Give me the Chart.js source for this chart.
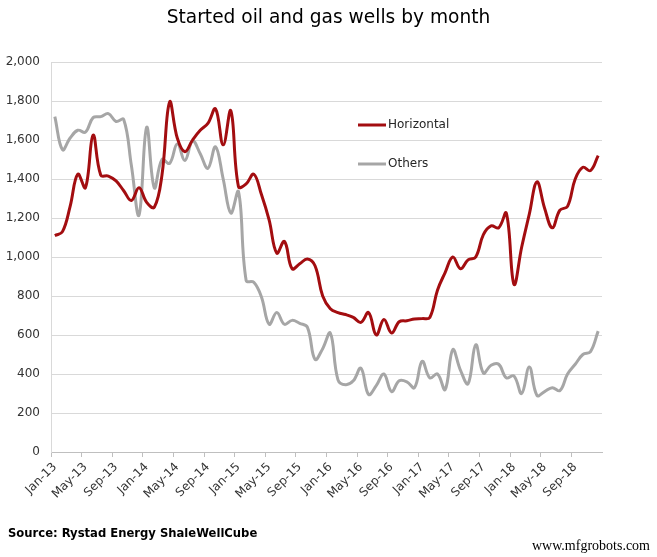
<!DOCTYPE html>
<html><head><meta charset="utf-8">
<script src="https://cdn.jsdelivr.net/npm/chart.js@4"></script>
<style>
html,body{margin:0;padding:0;background:#fff;}
#wrap{position:relative;width:657px;height:557px;overflow:hidden;}
#c{position:absolute;left:0;top:0;width:657px;height:557px;}
#title{position:absolute;left:0;top:6px;width:657px;text-align:center;font:18.6px "DejaVu Sans";color:#000;}
#src{position:absolute;left:8px;top:526px;font:bold 11.6px "DejaVu Sans";color:#000;}
#wm{position:absolute;right:7px;top:538px;font:14px "Liberation Serif";color:#000;}
</style></head><body>
<div id="wrap">
<canvas id="c" width="657" height="557"></canvas>
<div id="title">Started oil and gas wells by month</div>
<div id="src">Source: Rystad Energy ShaleWellCube</div>
<div id="wm">www.mfgrobots.com</div>
</div>
<script>
const months = ["Jan","Feb","Mar","Apr","May","Jun","Jul","Aug","Sep","Oct","Nov","Dec"];
const years = ["13","14","15","16","17","18"];
const categories = [];
years.forEach(y => months.forEach(m => categories.push(m + "-" + y)));

const horizontal = [
 1110,1130,1260,1425,1355,1625,1420,1415,1390,1340,1290,1355,
 1280,1255,1420,1795,1610,1540,1600,1650,1685,1760,1575,1750,
 1360,1375,1425,1320,1190,1020,1080,940,965,990,955,800,
 735,715,705,690,665,715,600,680,610,668,673,682,
 684,690,830,920,1000,940,985,1000,1115,1160,1150,1225,
 860,1050,1220,1385,1250,1150,1240,1260,1400,1460,1443,1520
];
const others = [
 1720,1550,1610,1650,1640,1715,1720,1735,1695,1705,1470,1215,
 1665,1355,1500,1480,1580,1495,1595,1530,1455,1565,1400,1225,
 1335,880,870,795,655,715,655,675,660,640,475,530,
 610,370,345,365,430,295,340,400,310,365,360,330,
 465,380,400,320,525,420,350,550,405,445,450,380,
 390,300,436,290,310,330,315,400,450,500,515,620
];
const yTicks = [0,200,400,600,800,1000,1200,1400,1600,1800,2000];
const labelEvery = 4;

const inlineLegend = {
  id: 'inlineLegend',
  afterDatasetsDraw(chart) {
    const ctx = chart.ctx;
    const pos = [125, 164];
    chart.data.datasets.forEach((ds, i) => {
      const y = pos[i];
      ctx.save();
      ctx.strokeStyle = ds.borderColor;
      ctx.lineWidth = 3;
      ctx.beginPath();
      ctx.moveTo(358, y);
      ctx.lineTo(386, y);
      ctx.stroke();
      ctx.fillStyle = '#262626';
      ctx.font = '12px "DejaVu Sans"';
      ctx.textBaseline = 'middle';
      ctx.textAlign = 'left';
      ctx.fillText(ds.label, 388, y);
      ctx.restore();
    });
  }
};

new Chart(document.getElementById('c'), {
  type: 'line',
  data: {
    labels: categories,
    datasets: [
      {label: 'Horizontal', data: horizontal, borderColor: '#a30d10', borderWidth: 3, pointRadius: 0, tension: 0.4, fill: false},
      {label: 'Others', data: others, borderColor: '#a6a6a6', borderWidth: 3, pointRadius: 0, tension: 0.4, fill: false}
    ]
  },
  options: {
    responsive: false,
    animation: false,
    devicePixelRatio: 1,
    layout: {padding: {top: 62, right: 55, left: 0, bottom: 0}},
    plugins: {legend: {display: false}, title: {display: false}, tooltip: {enabled: false}},
    scales: {
      x: {
        offset: true,
        afterFit: s => { s.height = 105; },
        grid: {
          offset: true,
          drawOnChartArea: false,
          drawTicks: true,
          tickLength: 5,
          tickColor: c => (c.index % labelEvery === 0 ? '#bfbfbf' : 'rgba(0,0,0,0)'),
          color: 'rgba(0,0,0,0)'
        },
        border: {display: true, color: '#bfbfbf', width: 1},
        ticks: {
          autoSkip: false,
          maxRotation: 45,
          minRotation: 45,
          padding: 3,
          color: '#333333',
          font: {family: '"DejaVu Sans"', size: 12},
          callback: (v, i) => (i % labelEvery === 0 ? categories[i] : '')
        }
      },
      y: {
        min: 0,
        max: 2000,
        afterFit: s => { s.width = 51; },
        afterBuildTicks: s => { s.ticks = yTicks.map(v => ({value: v})); },
        grid: {color: '#d9d9d9', drawTicks: false, lineWidth: 1},
        border: {display: true, color: '#d9d9d9'},
        ticks: {
          padding: 11,
          color: '#333333',
          font: {family: '"DejaVu Sans"', size: 12},
          callback: v => v.toLocaleString('en-US')
        }
      }
    }
  },
  plugins: [inlineLegend]
});
</script>
</body></html>
